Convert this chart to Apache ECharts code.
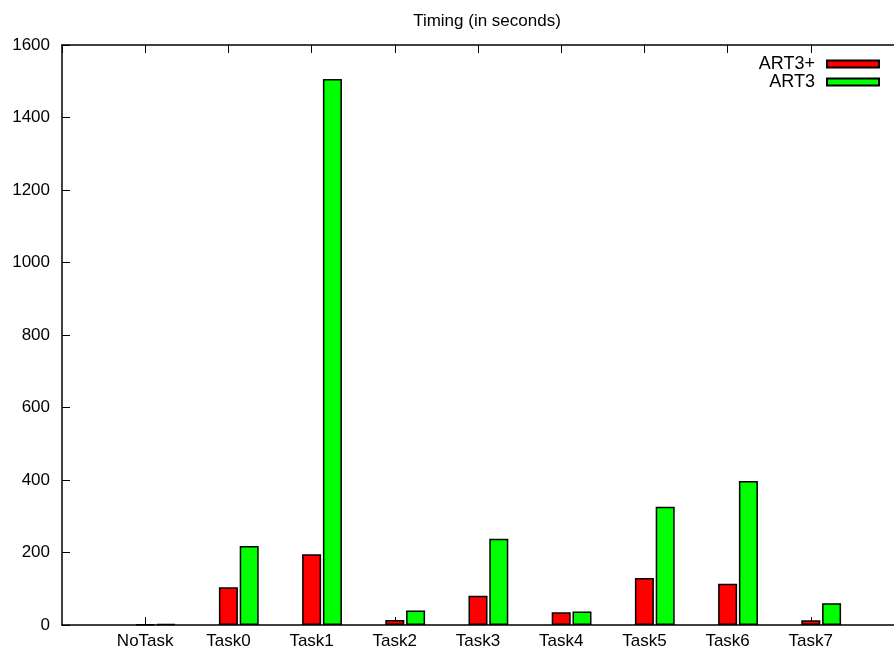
<!DOCTYPE html>
<html>
<head>
<meta charset="utf-8">
<script src="https://cdn.jsdelivr.net/npm/echarts@6/dist/echarts.min.js"></script>
<style>
  html, body { margin: 0; padding: 0; background: #fff; }
  #main { width: 894px; height: 651px; }
</style>
</head>
<body>
<div id="main"></div>
<script>
// data
const categories = ['NoTask', 'Task0', 'Task1', 'Task2', 'Task3', 'Task4', 'Task5', 'Task6', 'Task7'];
const art3plus = [2, 104, 195, 14, 81, 35, 130, 114, 13];
const art3 = [3, 218, 1506, 40, 238, 37, 326, 397, 60];
const yTicks = [0, 200, 400, 600, 800, 1000, 1200, 1400, 1600];

const FONT = 'Liberation Sans, Arial, sans-serif';
const pairOffset = 0.25; // green bar sits right of the red one (gnuplot style)

const myChart = echarts.init(document.querySelector('#main'));

let option = {
    animation: false,
    title: {
        text: 'Timing (in seconds)',
        left: 482,
        textAlign: 'center',
        top: 8,
        textStyle: { fontFamily: FONT, fontSize: 17, fontWeight: 'normal', color: '#000' }
    },
    legend: {
        right: 14,
        top: 55,
        padding: 0,
        orient: 'vertical',
        align: 'right',
        icon: 'rect',
        itemWidth: 52,
        itemHeight: 7,
        itemGap: 0,
        textStyle: { fontFamily: FONT, fontSize: 18, color: '#000', lineHeight: 16, padding: [0, 7, 0, 0] },
        data: ['ART3+', 'ART3']
    },
    grid: {
        left: 62,
        top: 45,
        width: 840,
        bottom: 26,
        containLabel: false
    },
    xAxis: [
        {
            type: 'value',
            min: -1,
            max: 9,
            interval: 1,
            position: 'bottom',
            splitLine: { show: false },
            axisLine: { show: true, onZero: false, lineStyle: { color: '#000', width: 1.5 } },
            axisTick: { show: true, inside: true, length: 8, lineStyle: { color: '#000', width: 1 } },
            axisLabel: {
                margin: 8,
                fontFamily: FONT, fontSize: 17, color: '#000',
                showMinLabel: false, showMaxLabel: false,
                formatter: function (v) { return categories[v] || ''; }
            }
        },
        {
            type: 'value',
            min: -1,
            max: 9,
            interval: 1,
            position: 'top',
            splitLine: { show: false },
            axisLine: { show: true, onZero: false, lineStyle: { color: '#000', width: 1.5 } },
            axisTick: { show: true, inside: true, length: 8, lineStyle: { color: '#000', width: 1 } },
            axisLabel: { show: false }
        }
    ],
    yAxis: {
        type: 'value',
        min: 0,
        max: 1600,
        interval: 200,
        position: 'left',
        splitLine: { show: false },
        axisLine: { show: true, onZero: false, lineStyle: { color: '#000', width: 1.5 } },
        axisTick: { show: true, inside: true, length: 8, lineStyle: { color: '#000', width: 1 } },
        axisLabel: {
            margin: 12,
            fontFamily: FONT, fontSize: 17, color: '#000',
            formatter: function (v) { return yTicks.indexOf(v) >= 0 ? String(v) : ''; }
        }
    },
    series: [
        {
            name: 'ART3+',
            type: 'bar',
            barWidth: 19,
            barGap: '-100%',
            itemStyle: { color: '#ff0000', borderColor: '#000', borderWidth: 1.5 },
            data: art3plus.map((v, i) => [i, v])
        },
        {
            name: 'ART3',
            type: 'bar',
            barWidth: 19,
            barGap: '-100%',
            itemStyle: { color: '#00ff00', borderColor: '#000', borderWidth: 1.5 },
            data: art3.map((v, i) => [i + pairOffset, v])
        }
    ]
};

myChart.setOption(option, true);
</script>
</body>
</html>
